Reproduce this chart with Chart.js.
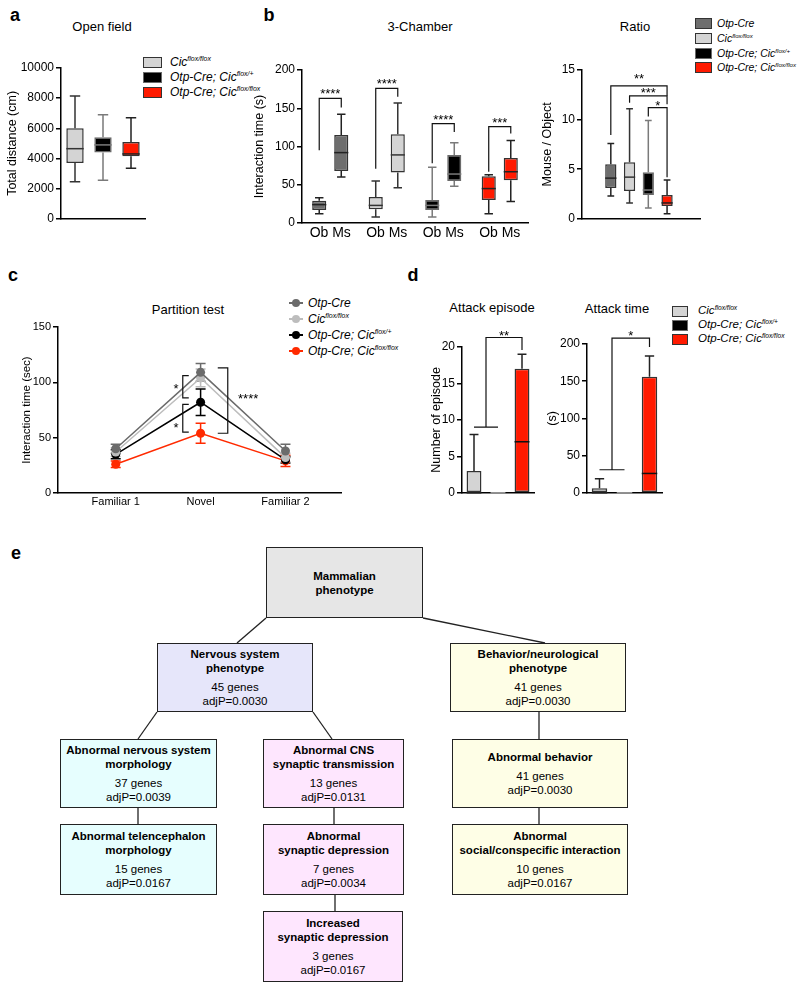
<!DOCTYPE html>
<html>
<head>
<meta charset="utf-8">
<script src="https://cdn.jsdelivr.net/npm/chart.js@4.4.1/dist/chart.umd.min.js"></script>
<style>
  body { margin: 0; background: #fff; font-family: "Liberation Sans", Arial, sans-serif; color: #000; }
  #page { position: relative; width: 800px; height: 989px; overflow: hidden; }
  .t { position: absolute; white-space: nowrap; line-height: 1; }
  canvas { position: absolute; }
  .sq { position: absolute; box-sizing: border-box; border: 1.5px solid #333; }
  .sup { font-size: 0.58em; position: relative; top: -0.65em; }
  .node { position: absolute; box-sizing: border-box; border: 1.5px solid #222; display: flex; flex-direction: column;
          justify-content: center; align-items: center; text-align: center; font-size: 11.5px; white-space: nowrap; }
  .node b { display: block; line-height: 14px; }
  .node .g { line-height: 14px; }
  .node .gap { height: 5px; }
  svg { position: absolute; left: 0; top: 0; }
</style>
</head>
<body>
<div id="page"></div>
<script>
// genotypes
const genoBase = ['Otp-Cre', 'Cic', 'Otp-Cre; Cic', 'Otp-Cre; Cic'];
const genoSup = ['', 'flox/flox', 'flox/+', 'flox/flox'];
const genoFill = ['#6e6e6e', '#d4d4d4', '#000000', '#ff1a00'];
const genoEdge = ['#333333', '#333333', '#6a6a6a', '#333333'];
const genoWhisker = ['#222222', '#333333', '#7a7a7a', '#222222'];
const genoLine = ['#6b6b6b', '#bdbdbd', '#000000', '#ff2a00'];

// a - open field (Cic f/f, Otp-Cre;Cic f/+, Otp-Cre;Cic f/f)
const openMin = [2450, 2550, 3350];
const openQ1 = [3700, 4400, 4150];
const openMed = [4650, 4900, 4300];
const openQ3 = [6000, 5400, 5100];
const openMax = [8150, 6900, 6700];

// b - 3 chamber, object (Ob) and mouse (Ms) per genotype
const chamberSides = ['Ob', 'Ms'];
const obMin = [12, 8, 8, 12];
const obQ1 = [17, 18, 17, 30];
const obMed = [24, 23, 23, 45];
const obQ3 = [29, 34, 30, 61];
const obMax = [33, 55, 73, 63];
const msMin = [60, 46, 48, 28];
const msQ1 = [68, 66, 55, 56];
const msMed = [92, 89, 64, 67];
const msQ3 = [115, 116, 89, 85];
const msMax = [142, 157, 105, 108];

// b - ratio
const ratioMin = [2.3, 1.6, 1.1, 0.5];
const ratioQ1 = [3.1, 2.8, 2.4, 1.3];
const ratioMed = [4.1, 4.2, 2.9, 1.6];
const ratioQ3 = [5.5, 5.7, 4.7, 2.4];
const ratioMax = [7.6, 11.1, 9.9, 3.9];

// c - partition test
const phases = ['Familiar 1', 'Novel', 'Familiar 2'];
const partOtp = [40, 109, 38];
const partOtpErr = [4, 8, 6];
const partCic = [37, 104, 32];
const partCicErr = [4, 8, 4];
const partHet = [35, 82, 30];
const partHetErr = [4, 12, 3];
const partKo = [26, 54, 29];
const partKoErr = [3, 9, 5];

// d - attack episode / attack time (Cic f/f, Otp-Cre;Cic f/+, Otp-Cre;Cic f/f)
const episodeMin = [0, 0, 0];
const episodeMed = [0, 0, 7];
const episodeQ3 = [3, 0, 17];
const episodeMax = [8, 0, 19];
const timeMin = [0, 0, 0];
const timeMed = [0, 0, 26];
const timeQ3 = [6, 0, 156];
const timeMax = [19, 0, 184];

// e - mammalian phenotype ontology
const nodeTitles = ['Mammalian<br>phenotype', 'Nervous system<br>phenotype', 'Behavior/neurological<br>phenotype',
  'Abnormal nervous system<br>morphology', 'Abnormal CNS<br>synaptic transmission', 'Abnormal behavior',
  'Abnormal telencephalon<br>morphology', 'Abnormal<br>synaptic depression', 'Abnormal<br>social/conspecific interaction',
  'Increased<br>synaptic depression'];
const nodeGenes = [null, 45, 41, 37, 13, 41, 15, 7, 10, 3];
const nodeAdjP = [null, '0.0030', '0.0030', '0.0039', '0.0131', '0.0030', '0.0167', '0.0034', '0.0167', '0.0167'];

Chart.defaults.font.family = '"Liberation Sans", Arial, sans-serif';
Chart.defaults.color = '#000';

const page = document.getElementById('page');

function text(html, x, y, o = {}) {
  const d = document.createElement('div');
  d.className = 't';
  d.innerHTML = html;
  d.style.left = x + 'px';
  d.style.top = y + 'px';
  d.style.fontSize = (o.size || 13) + 'px';
  if (o.bold) d.style.fontWeight = 'bold';
  if (o.italic) d.style.fontStyle = 'italic';
  d.style.transform = o.left ? 'translate(0,-50%)' : 'translate(-50%,-50%)';
  page.appendChild(d);
}

function geno(i) {
  return genoBase[i] + (genoSup[i] ? '<span class="sup">' + genoSup[i] + '</span>' : '');
}

function square(x, y, w, h, fill, edge) {
  const d = document.createElement('div');
  d.className = 'sq';
  d.style.left = x + 'px'; d.style.top = (y - h / 2) + 'px';
  d.style.width = w + 'px'; d.style.height = h + 'px';
  d.style.background = fill; d.style.borderColor = edge;
  page.appendChild(d);
}

function mkCanvas(x0, y0, x1, y1) {
  const c = document.createElement('canvas');
  c.width = x1 - x0; c.height = y1 - y0;
  c.style.left = x0 + 'px'; c.style.top = y0 + 'px';
  page.appendChild(c);
  return c;
}

// chart area wanted inside a canvas box
function fit(area, box) {
  return {
    padding: { left: 0, top: area.t - box.y0, right: box.x1 - area.r, bottom: 0 },
    yw: area.l - box.x0,
    xh: box.y1 - area.b
  };
}

function yScale(min, max, step, title, titleSize, width, tickSize) {
  return {
    min: min, max: max,
    ticks: { stepSize: step, color: '#000', font: { size: tickSize }, padding: 2, callback: v => String(v) },
    grid: { drawOnChartArea: false, tickLength: 5, color: '#000', lineWidth: 1.5 },
    border: { color: '#000', width: 1.5 },
    title: { display: true, text: title, color: '#000', font: { size: titleSize }, padding: 0 },
    afterFit(s) { s.width = width; }
  };
}

function xCat(height, showTicks, tickSize) {
  return {
    type: 'category', offset: true,
    grid: { display: false, drawTicks: false },
    border: { color: '#000', width: 1.5 },
    ticks: { display: showTicks, color: '#000', font: { size: tickSize || 12 }, padding: 2, maxRotation: 0, autoSkip: false },
    afterFit(s) { s.height = height; }
  };
}

function baseOptions(f, scales) {
  return {
    responsive: false, animation: false, devicePixelRatio: 1, events: [],
    layout: { padding: f.padding },
    plugins: { legend: { display: false }, tooltip: { enabled: false } },
    scales: scales
  };
}

// whiskers and medians on floating bars
const boxPlugin = {
  id: 'boxes',
  afterDatasetsDraw(chart) {
    const ctx = chart.ctx, ys = chart.scales.y;
    const py = v => ys.getPixelForValue(v);
    chart.data.datasets.forEach((ds, di) => {
      if (!ds.med) return;
      chart.getDatasetMeta(di).data.forEach((bar, i) => {
        const q1 = ds.data[i].y ? ds.data[i].y[0] : ds.data[i][0];
        const q3 = ds.data[i].y ? ds.data[i].y[1] : ds.data[i][1];
        const x = bar.x, w = bar.width, cap = w * 0.3;
        ctx.save();
        ctx.lineWidth = 1.5;
        ctx.strokeStyle = ds.whisker[i];
        ctx.beginPath();
        if (ds.hi[i] > q3) {
          ctx.moveTo(x, py(q3)); ctx.lineTo(x, py(ds.hi[i]));
          ctx.moveTo(x - cap, py(ds.hi[i])); ctx.lineTo(x + cap, py(ds.hi[i]));
        }
        if (ds.lo[i] < q1) {
          ctx.moveTo(x, py(q1)); ctx.lineTo(x, py(ds.lo[i]));
          ctx.moveTo(x - cap, py(ds.lo[i])); ctx.lineTo(x + cap, py(ds.lo[i]));
        }
        ctx.stroke();
        ctx.strokeStyle = ds.medColor[i];
        ctx.beginPath();
        ctx.moveTo(x - w / 2, py(ds.med[i])); ctx.lineTo(x + w / 2, py(ds.med[i]));
        ctx.stroke();
        ctx.restore();
      });
    });
  }
};

// error bars for the line chart
const errPlugin = {
  id: 'errs',
  beforeDatasetsDraw(chart) {
    const ctx = chart.ctx, ys = chart.scales.y;
    for (let di = chart.data.datasets.length - 1; di >= 0; di--) {
      const ds = chart.data.datasets[di];
      ctx.save();
      ctx.strokeStyle = ds.borderColor; ctx.lineWidth = 1.5;
      chart.getDatasetMeta(di).data.forEach((pt, i) => {
        const top = ys.getPixelForValue(ds.data[i].y + ds.err[i]);
        const bot = ys.getPixelForValue(ds.data[i].y - ds.err[i]);
        ctx.beginPath();
        ctx.moveTo(pt.x, top); ctx.lineTo(pt.x, bot);
        ctx.moveTo(pt.x - 5, top); ctx.lineTo(pt.x + 5, top);
        ctx.moveTo(pt.x - 5, bot); ctx.lineTo(pt.x + 5, bot);
        ctx.stroke();
      });
      ctx.restore();
    }
  }
};

// significance brackets
function sigPlugin(items) {
  return {
    id: 'sig',
    afterDraw(chart) {
      const ctx = chart.ctx, ys = chart.scales.y, xs = chart.scales.x;
      const ex = p => chart.getDatasetMeta(p[0]).data[p[1]].x;
      const py = v => ys.getPixelForValue(v);
      ctx.save();
      ctx.strokeStyle = '#111'; ctx.lineWidth = 1.2; ctx.fillStyle = '#000';
      ctx.font = '13px "Liberation Sans", Arial, sans-serif';
      ctx.textAlign = 'center'; ctx.textBaseline = 'alphabetic';
      items.forEach(it => {
        let tx, ty;
        ctx.beginPath();
        if (it.type === 'bracket') {
          const xa = ex(it.a), xb = ex(it.b);
          ctx.moveTo(xa, py(it.ya)); ctx.lineTo(xa, py(it.top)); ctx.lineTo(xb, py(it.top)); ctx.lineTo(xb, py(it.yb));
          tx = (xa + xb) / 2; ty = py(it.top);
        } else if (it.type === 'split') {
          const xa = ex(it.a), xb = ex(it.b), xc = ex(it.to), xm = (xa + xb) / 2;
          ctx.moveTo(xa, py(it.low)); ctx.lineTo(xb, py(it.low));
          ctx.moveTo(xm, py(it.low)); ctx.lineTo(xm, py(it.top)); ctx.lineTo(xc, py(it.top)); ctx.lineTo(xc, py(it.toY));
          tx = (xm + xc) / 2; ty = py(it.top);
        } else if (it.type === 'side') {
          const x = xs.getPixelForValue(it.x), e = x + it.dir * it.len;
          ctx.moveTo(e, py(it.y1)); ctx.lineTo(x, py(it.y1)); ctx.lineTo(x, py(it.y2)); ctx.lineTo(e, py(it.y2));
        } else if (it.type === 'text') {
          ctx.fillText(it.text, xs.getPixelForValue(it.x), py(it.y));
        }
        ctx.stroke();
        if (tx !== undefined) ctx.fillText(it.text, tx, ty + (it.dy || 0));
      });
      ctx.restore();
    }
  };
}

// ---------- panel letters and titles ----------
text('a', 15, 15, { size: 18, bold: true });
text('b', 269, 15, { size: 18, bold: true });
text('c', 13, 275, { size: 18, bold: true });
text('d', 413, 275, { size: 18, bold: true });
text('e', 16, 553, { size: 18, bold: true });

text('Open field', 102, 26);
text('3-Chamber', 420, 26);
text('Ratio', 635, 26);
text('Partition test', 188, 309);
text('Attack episode', 492, 307);
text('Attack time', 617, 308);

// ---------- legends ----------
[1, 2, 3].forEach((g, k) => {
  const y = [62, 77, 92][k];
  square(143, y, 19, 11, genoFill[g], genoEdge[g]);
  text(geno(g), 170, y, { size: 12, italic: true, left: true });
});
[0, 1, 2, 3].forEach((g, k) => {
  const y = [23, 38, 53, 67][k];
  square(695, y, 17, 11, genoFill[g], genoEdge[g]);
  text(geno(g), 717, y, { size: 10.5, italic: true, left: true });
});
[0, 1, 2, 3].forEach((g, k) => {
  const y = [303, 319, 335, 351][k];
  const ln = document.createElement('div');
  ln.style.cssText = 'position:absolute;left:289px;top:' + (y - 1) + 'px;width:14px;height:2px;background:' + genoLine[g];
  page.appendChild(ln);
  const dot = document.createElement('div');
  dot.style.cssText = 'position:absolute;left:292px;top:' + (y - 4) + 'px;width:8px;height:8px;border-radius:50%;background:' + genoLine[g];
  page.appendChild(dot);
  text(geno(g), 308, y, { size: 12, italic: true, left: true });
});
[1, 2, 3].forEach((g, k) => {
  const y = [311, 325, 339][k];
  square(672, y, 16, 11, genoFill[g], genoEdge[g]);
  text(geno(g), 698, y, { size: 11.5, italic: true, left: true });
});

// ---------- a: open field ----------
{
  const box = { x0: 5, y0: 58, x1: 150, y1: 228 };
  const f = fit({ l: 61, t: 68, r: 145, b: 221 }, box);
  const gs = [1, 2, 3];
  new Chart(mkCanvas(box.x0, box.y0, box.x1, box.y1), {
    type: 'bar',
    data: {
      labels: gs.map(g => genoBase[g] + ' ' + genoSup[g]),
      datasets: [{
        data: openQ1.map((v, i) => [v, openQ3[i]]),
        lo: openMin, med: openMed, hi: openMax,
        backgroundColor: gs.map(g => genoFill[g]), borderColor: gs.map(g => genoEdge[g]),
        whisker: gs.map(g => genoWhisker[g]), medColor: gs.map(g => genoWhisker[g]),
        borderWidth: 1.5, borderSkipped: false, barPercentage: 0.62, categoryPercentage: 1
      }]
    },
    options: baseOptions(f, {
      x: xCat(f.xh, false),
      y: yScale(0, 10000, 2000, 'Total distance (cm)', 12.5, f.yw, 12)
    }),
    plugins: [boxPlugin]
  });
}

// ---------- b: 3-chamber ----------
{
  const box = { x0: 252, y0: 55, x1: 532, y1: 245 };
  const f = fit({ l: 302, t: 70, r: 528, b: 223 }, box);
  const common = {
    backgroundColor: genoFill, borderColor: genoEdge, whisker: genoWhisker, medColor: genoWhisker,
    borderWidth: 1.5, borderSkipped: false, barPercentage: 0.64, categoryPercentage: 0.78
  };
  const opts = baseOptions(f, {
    x: xCat(f.xh, true, 14),
    y: yScale(0, 200, 50, 'Interaction time (s)', 12.5, f.yw, 12)
  });
  opts.scales.x.ticks.callback = () => chamberSides.join(' ');
  new Chart(mkCanvas(box.x0, box.y0, box.x1, box.y1), {
    type: 'bar',
    data: {
      labels: genoBase.map((b, g) => b + ' ' + genoSup[g]),
      datasets: [
        Object.assign({ label: chamberSides[0], data: obQ1.map((v, i) => [v, obQ3[i]]), lo: obMin, med: obMed, hi: obMax }, common),
        Object.assign({ label: chamberSides[1], data: msQ1.map((v, i) => [v, msQ3[i]]), lo: msMin, med: msMed, hi: msMax }, common)
      ]
    },
    options: opts,
    plugins: [boxPlugin, sigPlugin([
      { type: 'bracket', a: [0, 0], b: [1, 0], ya: 95, yb: 151, top: 163, text: '****' },
      { type: 'bracket', a: [0, 1], b: [1, 1], ya: 71, yb: 165, top: 176, text: '****' },
      { type: 'bracket', a: [0, 2], b: [1, 2], ya: 78, yb: 119, top: 130, text: '****' },
      { type: 'bracket', a: [0, 3], b: [1, 3], ya: 67, yb: 117, top: 126, text: '***' }
    ])]
  });
}

// ---------- b: ratio ----------
{
  const box = { x0: 540, y0: 55, x1: 704, y1: 228 };
  const f = fit({ l: 582, t: 70, r: 700, b: 223 }, box);
  new Chart(mkCanvas(box.x0, box.y0, box.x1, box.y1), {
    type: 'bar',
    data: {
      datasets: [{
        data: ratioQ1.map((v, i) => ({ x: i + 1, y: [v, ratioQ3[i]] })),
        lo: ratioMin, med: ratioMed, hi: ratioMax,
        backgroundColor: genoFill, borderColor: genoEdge, whisker: genoWhisker, medColor: genoWhisker,
        borderWidth: 1.5, borderSkipped: false, barPercentage: 0.6, categoryPercentage: 1
      }]
    },
    options: baseOptions(f, {
      x: {
        type: 'linear', min: 0.25, max: 4.97,
        grid: { display: false, drawTicks: false }, border: { color: '#000', width: 1.5 },
        ticks: { display: false },
        afterBuildTicks(s) { s.ticks = ratioMed.map((v, i) => ({ value: i + 1 })); },
        afterFit(s) { s.height = f.xh; }
      },
      y: yScale(0, 15, 5, 'Mouse / Object', 12.5, f.yw, 12)
    }),
    plugins: [boxPlugin, sigPlugin([
      { type: 'bracket', a: [0, 0], b: [0, 3], ya: 8.45, yb: 12.4, top: 13.4, text: '**', dy: -3 },
      { type: 'bracket', a: [0, 1], b: [0, 3], ya: 11.7, yb: 11.55, top: 12.4, text: '***', dy: 1 },
      { type: 'bracket', a: [0, 2], b: [0, 3], ya: 10.3, yb: 4.2, top: 11.2, text: '*', dy: 2 }
    ])]
  });
}

// ---------- c: partition test ----------
{
  const box = { x0: 20, y0: 315, x1: 346, y1: 512 };
  const f = fit({ l: 58, t: 327, r: 342, b: 493 }, box);
  const series = [[partOtp, partOtpErr], [partCic, partCicErr], [partHet, partHetErr], [partKo, partKoErr]];
  new Chart(mkCanvas(box.x0, box.y0, box.x1, box.y1), {
    type: 'line',
    data: {
      datasets: series.map((s, g) => ({
        label: genoBase[g] + ' ' + genoSup[g],
        data: s[0].map((v, i) => ({ x: i, y: v })),
        err: s[1],
        borderColor: genoLine[g], backgroundColor: genoLine[g],
        pointBackgroundColor: genoLine[g], pointBorderWidth: 0, pointRadius: 4.5,
        borderWidth: 1.5, tension: 0
      }))
    },
    options: baseOptions(f, {
      x: {
        type: 'linear', min: -0.68, max: 2.66,
        grid: { display: false, drawTicks: false }, border: { color: '#000', width: 1.5 },
        ticks: { color: '#000', font: { size: 11 }, padding: 2, callback: v => phases[v] },
        afterBuildTicks(s) { s.ticks = phases.map((p, i) => ({ value: i })); },
        afterFit(s) { s.height = f.xh; }
      },
      y: yScale(0, 150, 50, 'Interaction time (sec)', 11.5, f.yw, 11)
    }),
    plugins: [errPlugin, sigPlugin([
      { type: 'side', x: 0.79, y1: 86, y2: 106, dir: 1, len: 6 },
      { type: 'side', x: 0.79, y1: 55, y2: 80, dir: 1, len: 6 },
      { type: 'side', x: 1.32, y1: 54, y2: 113, dir: -1, len: 10 },
      { type: 'text', x: 0.71, y: 90, text: '*' },
      { type: 'text', x: 0.71, y: 55.5, text: '*' },
      { type: 'text', x: 1.56, y: 81, text: '****' }
    ])]
  });
}

// ---------- d: attack episode / attack time ----------
function attackChart(box, area, lo, med, q3, hi, max, step, title, sig) {
  const f = fit(area, box);
  const gs = [1, 2, 3];
  new Chart(mkCanvas(box.x0, box.y0, box.x1, box.y1), {
    type: 'bar',
    data: {
      labels: gs.map(g => genoBase[g] + ' ' + genoSup[g]),
      datasets: [{
        data: q3.map((v, i) => [lo[i], v]),
        lo: lo, med: med, hi: hi,
        backgroundColor: gs.map(g => genoFill[g]), borderColor: gs.map(g => genoEdge[g]),
        whisker: ['#222', '#888', '#222'], medColor: ['#222', '#999', '#111'],
        borderWidth: 1.5, borderSkipped: false, barPercentage: 0.62, categoryPercentage: 1
      }]
    },
    options: baseOptions(f, {
      x: xCat(f.xh, false),
      y: yScale(0, max, step, title, 12.5, f.yw, 12)
    }),
    plugins: [boxPlugin, sigPlugin([sig])]
  });
}
attackChart({ x0: 429, y0: 320, x1: 538, y1: 502 }, { l: 462, t: 347, r: 534, b: 497 },
  episodeMin, episodeMed, episodeQ3, episodeMax, 20, 5, 'Number of episode',
  { type: 'split', a: [0, 0], b: [0, 1], low: 9, to: [0, 2], top: 21.3, toY: 19.6, text: '**', dy: 2 });
attackChart({ x0: 545, y0: 320, x1: 666, y1: 502 }, { l: 587, t: 344, r: 662, b: 497 },
  timeMin, timeMed, timeQ3, timeMax, 200, 50, '(s)',
  { type: 'split', a: [0, 0], b: [0, 1], low: 31, to: [0, 2], top: 208, toY: 196, text: '*', dy: 2 });

// ---------- e: phenotype tree ----------
const nodeBoxes = [
  [266, 547, 423, 618], [157, 643, 313, 712], [450, 643, 626, 712],
  [60, 739, 217, 808], [263, 739, 404, 808], [452, 739, 628, 808],
  [60, 824, 217, 895], [263, 824, 404, 895], [452, 824, 628, 895],
  [263, 911, 403, 982]
];
const nodeFills = ['#e6e6e6', '#e6e6fa', '#fefee6', '#e6fefe', '#fee6fe', '#fefee6', '#e6fefe', '#fee6fe', '#fefee6', '#fee6fe'];
const links = [
  [266, 618, 237, 643], [423, 618, 545, 643],
  [157, 712, 138, 739], [313, 712, 332, 739], [539, 712, 539, 739],
  [138, 808, 138, 824], [334, 808, 334, 824], [539, 808, 539, 824],
  [335, 895, 335, 911]
];
const svgNS = 'http://www.w3.org/2000/svg';
const svg = document.createElementNS(svgNS, 'svg');
svg.setAttribute('width', 800); svg.setAttribute('height', 989);
links.forEach(l => {
  const ln = document.createElementNS(svgNS, 'line');
  ln.setAttribute('x1', l[0]); ln.setAttribute('y1', l[1]); ln.setAttribute('x2', l[2]); ln.setAttribute('y2', l[3]);
  ln.setAttribute('stroke', '#222'); ln.setAttribute('stroke-width', 1.3);
  svg.appendChild(ln);
});
page.appendChild(svg);

nodeTitles.forEach((t, i) => {
  const b = nodeBoxes[i];
  const d = document.createElement('div');
  d.className = 'node';
  d.style.left = b[0] + 'px'; d.style.top = b[1] + 'px';
  d.style.width = (b[2] - b[0]) + 'px'; d.style.height = (b[3] - b[1]) + 'px';
  d.style.background = nodeFills[i];
  let html = '<b>' + t.split('<br>').join('</b><b>') + '</b>';
  if (nodeGenes[i] !== null) {
    html += '<div class="gap"></div><div class="g">' + nodeGenes[i] + ' genes</div><div class="g">adjP=' + nodeAdjP[i] + '</div>';
  }
  d.innerHTML = html;
  page.appendChild(d);
});
</script>
</body>
</html>
